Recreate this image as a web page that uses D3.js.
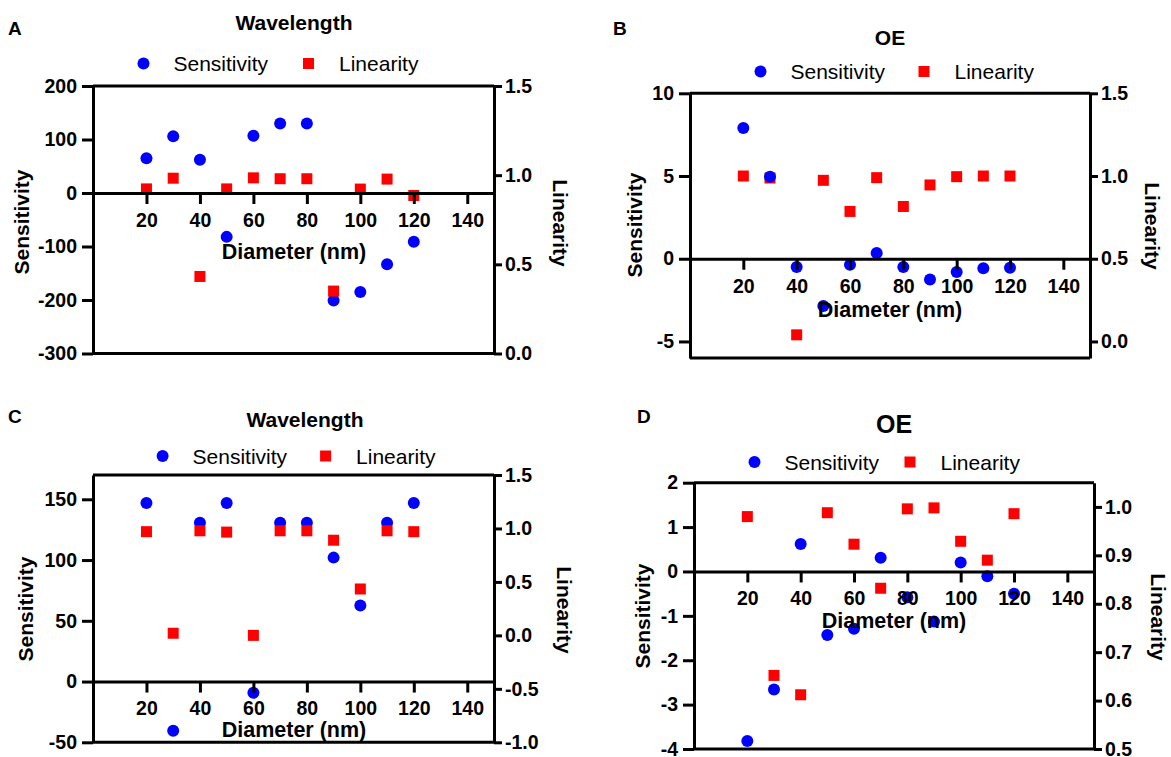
<!DOCTYPE html>
<html>
<head>
<meta charset="utf-8">
<script src="https://cdn.jsdelivr.net/npm/d3@7.9.0/dist/d3.min.js"></script>
<style>
  body { margin: 0; background: #fff; }
  svg text { font-family: "Liberation Sans", Arial, Helvetica, sans-serif; fill: #000; }
</style>
</head>
<body>
<svg id="chart" width="1171" height="757"></svg>
<script>
// diameters (nm) shared by all four panels
const diameters = [20, 30, 40, 50, 60, 70, 80, 90, 100, 110, 120];
const xTicks = [20, 40, 60, 80, 100, 120, 140];

// A - wavelength
const sensA = [65, 106, 62, -82, 107, 130, 130, -201, -185, -133, -91];
const linA = [0.923, 0.983, 0.432, 0.923, 0.985, 0.98, 0.98, 0.35, 0.922, 0.978, 0.886];
// B - OE
const sensB = [7.9, 4.95, -0.5, -2.86, -0.36, 0.34, -0.5, -1.26, -0.8, -0.58, -0.55];
const linB = [1.0, 0.988, 0.04, 0.974, 0.786, 0.99, 0.816, 0.946, 0.996, 1.0, 1.0];
// C - wavelength
const sensC = [147, -40.5, 130.8, 147, -9.3, 130.8, 130.8, 102, 62.6, 130.8, 147];
const linC = [0.97, 0.02, 0.978, 0.966, 0.0, 0.978, 0.978, 0.89, 0.434, 0.978, 0.97];
// D - OE
const sensD = [-3.82, -2.66, 0.62, -1.43, -1.29, 0.31, -0.58, -1.13, 0.2, -0.11, -0.5];
const linD = [0.98, 0.652, 0.612, 0.988, 0.923, 0.832, 0.996, 0.998, 0.929, 0.89, 0.986];

const leftTicksA = [-300, -200, -100, 0, 100, 200];
const rightTicksA = [0, 0.5, 1.0, 1.5];
const leftTicksB = [-5, 0, 5, 10];
const rightTicksB = [0, 0.5, 1.0, 1.5];
const leftTicksC = [-50, 0, 50, 100, 150];
const rightTicksC = [-1.0, -0.5, 0, 0.5, 1.0, 1.5];
const leftTicksD = [-4, -3, -2, -1, 0, 1, 2];
const rightTicksD = [0.5, 0.6, 0.7, 0.8, 0.9, 1.0];

const BLUE = '#0000ff';
const RED = '#ff0000';
const LW = 3;
const TICK_FONT = 19.5;
const R = 6;      // circle radius
const SQ = 11;    // square side

const svg = d3.select('#chart');

const panels = [
  { letter: 'A', lx: 8, ly: 35, title: 'Wavelength', tx: 294, ty: 29.5, tsize: 21,
    box: [93, 86, 494, 353.5], yDom: [-300, 200], rDom: [0, 1.5],
    lTicks: leftTicksA, rTicks: rightTicksA, sens: sensA, lin: linA,
    leg: [143.5, 63.5, 308.5], xlab: [294, 259], ylab: [21, 222], rlab: [560, 223], circlesOnTop: false },
  { letter: 'B', lx: 613, ly: 35, title: 'OE', tx: 890, ty: 45, tsize: 21,
    box: [690, 93.3, 1090, 358], yDom: [-6, 10], rDom: [-0.1, 1.5],
    lTicks: leftTicksB, rTicks: rightTicksB, sens: sensB, lin: linB,
    leg: [760.5, 71.5, 924], xlab: [890, 317], ylab: [634, 225], rlab: [1152, 226], circlesOnTop: true },
  { letter: 'C', lx: 8, ly: 423, title: 'Wavelength', tx: 305, ty: 427, tsize: 21,
    box: [93, 475, 494, 742.3], yDom: [-50, 170], rDom: [-1.0, 1.5],
    lTicks: leftTicksC, rTicks: rightTicksC, sens: sensC, lin: linC,
    leg: [162.6, 456, 325.6], xlab: [294, 737], ylab: [25, 609], rlab: [564, 610], circlesOnTop: false },
  { letter: 'D', lx: 637, ly: 423, title: 'OE', tx: 894, ty: 432.5, tsize: 25,
    box: [694, 482.7, 1094, 749], yDom: [-4, 2], rDom: [0.5, 1.05],
    lTicks: leftTicksD, rTicks: rightTicksD, sens: sensD, lin: linD,
    leg: [754.5, 462, 910], xlab: [894, 628], ylab: [642, 616], rlab: [1158, 617], circlesOnTop: false }
];

function styleAxis(g) {
  g.selectAll('path, line').attr('stroke', '#000').attr('stroke-width', LW);
  g.selectAll('text')
    .attr('font-family', '"Liberation Sans", Arial, Helvetica, sans-serif')
    .attr('font-size', TICK_FONT)
    .attr('font-weight', 'bold')
    .attr('fill', '#000');
}

function drawPanel(p) {
  const [x0, y0, x1, y1] = p.box;
  const x = d3.scaleLinear().domain([0, 150]).range([x0, x1]);
  const yL = d3.scaleLinear().domain(p.yDom).range([y1, y0]);
  const yR = d3.scaleLinear().domain(p.rDom).range([y1, y0]);

  const g = svg.append('g');

  // panel letter + title
  g.append('text').attr('x', p.lx).attr('y', p.ly)
    .attr('font-size', 19).attr('font-weight', 'bold').text(p.letter);
  g.append('text').attr('x', p.tx).attr('y', p.ty).attr('text-anchor', 'middle')
    .attr('font-size', p.tsize).attr('font-weight', 'bold').text(p.title);

  // legend
  const [cx, cy, sx] = p.leg;
  g.append('circle').attr('cx', cx).attr('cy', cy).attr('r', R).attr('fill', BLUE);
  g.append('text').attr('x', cx + 30).attr('y', cy + 7.5).attr('font-size', 21).text('Sensitivity');
  g.append('rect').attr('x', sx - SQ / 2).attr('y', cy - SQ / 2).attr('width', SQ).attr('height', SQ).attr('fill', RED);
  g.append('text').attr('x', sx + 30.5).attr('y', cy + 7.5).attr('font-size', 21).text('Linearity');

  // frame top & bottom
  g.append('line').attr('x1', x(0)).attr('x2', x(150)).attr('y1', y0).attr('y2', y0)
    .attr('stroke', '#000').attr('stroke-width', LW);
  g.append('line').attr('x1', x(0)).attr('x2', x(150)).attr('y1', y1).attr('y2', y1)
    .attr('stroke', '#000').attr('stroke-width', LW);

  // markers
  const pts = diameters.map((d, i) => ({ d, s: p.sens[i], l: p.lin[i] }));
  const drawCircles = () => g.append('g').selectAll('circle').data(pts).join('circle')
    .attr('cx', d => x(d.d)).attr('cy', d => yL(d.s)).attr('r', R).attr('fill', BLUE);
  const drawSquares = () => g.append('g').selectAll('rect').data(pts).join('rect')
    .attr('x', d => x(d.d) - SQ / 2).attr('y', d => yR(d.l) - SQ / 2)
    .attr('width', SQ).attr('height', SQ).attr('fill', RED);
  if (p.circlesOnTop) { drawSquares(); drawCircles(); } else { drawCircles(); drawSquares(); }

  // left axis
  const gl = g.append('g').attr('transform', `translate(${x0},0)`)
    .call(d3.axisLeft(yL).tickValues(p.lTicks).tickSize(11).tickSizeOuter(0).tickPadding(5)
      .tickFormat(d => String(d)));
  styleAxis(gl);

  // right axis
  const gr = g.append('g').attr('transform', `translate(${x1},0)`)
    .call(d3.axisRight(yR).tickValues(p.rTicks).tickSize(8).tickSizeOuter(0).tickPadding(3)
      .tickFormat(d => d.toFixed(1)));
  styleAxis(gr);

  // x axis at sensitivity = 0
  const gx = g.append('g').attr('transform', `translate(0,${yL(0)})`)
    .call(d3.axisBottom(x).tickValues(xTicks).tickSize(11).tickSizeOuter(0).tickPadding(9));
  styleAxis(gx);

  // axis titles
  g.append('text').attr('x', p.xlab[0]).attr('y', p.xlab[1]).attr('text-anchor', 'middle')
    .attr('font-size', 21.5).attr('font-weight', 'bold').text('Diameter (nm)');
  g.append('text').attr('transform', `translate(${p.ylab[0]},${p.ylab[1]}) rotate(-90)`)
    .attr('text-anchor', 'middle').attr('dominant-baseline', 'central')
    .attr('font-size', 21).attr('font-weight', 'bold').text('Sensitivity');
  g.append('text').attr('transform', `translate(${p.rlab[0]},${p.rlab[1]}) rotate(90)`)
    .attr('text-anchor', 'middle').attr('dominant-baseline', 'central')
    .attr('font-size', 21).attr('font-weight', 'bold').text('Linearity');
}

panels.forEach(drawPanel);
</script>
</body>
</html>
